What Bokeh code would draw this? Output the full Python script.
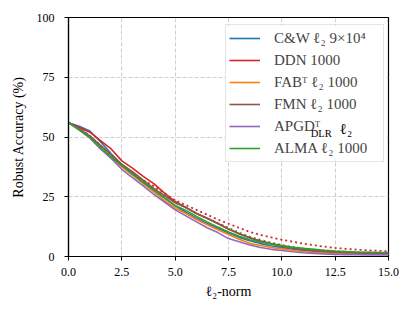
from bokeh.plotting import figure
from bokeh.models import FixedTicker, PrintfTickFormatter, Label, Range1d, BoxAnnotation
from bokeh.embed import file_html
from bokeh.resources import INLINE

x = [0, 0.5, 1, 1.5, 2, 2.5, 3, 3.5, 4, 4.5, 5, 5.5, 6, 6.5, 7, 7.5, 8, 8.5, 9, 9.5,
     10, 10.5, 11, 11.5, 12, 12.5, 13, 13.5, 14, 14.5, 15]

cw = [56, 54.5, 52.5, 48, 43, 38.5, 34.8, 31.2, 27.8, 24.5, 21.2, 18.5, 16, 13.8, 11.8, 9.8,
      8, 6.6, 5.4, 4.5, 3.7, 3, 2.5, 2.1, 1.8, 1.6, 1.4, 1.3, 1.2, 1.1, 1.0]
ddn = [56, 54, 52, 48.5, 45, 40, 37, 33.5, 30.5, 26.5, 23, 20.5, 18, 16, 13.8, 11.5,
       9.5, 7.8, 6.5, 5.4, 4.6, 3.8, 3.2, 2.6, 2.2, 1.9, 1.6, 1.4, 1.3, 1.2, 1.1]
fab = [56, 53, 50, 45.5, 41.5, 37.5, 34, 30.5, 27, 23.5, 20.2, 18, 15.5, 13.3, 11.2, 9.2,
       7.2, 5.5, 4.6, 3.8, 3.2, 2.6, 2.1, 1.8, 1.6, 1.4, 1.3, 1.2, 1.1, 1.0, 1.0]
fmn = [56, 53.5, 50.5, 46.5, 42.5, 38.5, 35.5, 32, 28.5, 25.5, 22.5, 20.5, 18, 16, 13.8, 11.5,
       9.5, 7.8, 6.4, 5.3, 4.3, 3.5, 2.9, 2.4, 2.1, 1.8, 1.6, 1.5, 1.4, 1.3, 1.2]
apgd = [56, 53, 49.5, 45, 41, 36.5, 33, 29.5, 26, 22.8, 19.5, 17, 14.5, 12, 10, 7.5,
        6.2, 4.8, 3.8, 3.0, 2.5, 2.0, 1.6, 1.3, 1.1, 0.9, 0.8, 0.8, 0.7, 0.7, 0.7]
alma = [56, 53, 50, 45.5, 41.5, 38, 34.5, 31, 27.8, 24.5, 21.3, 19.3, 16.8, 14.5, 12.3, 10.3,
        8.5, 7, 6, 5.2, 4.5, 3.9, 3.4, 3.0, 2.6, 2.3, 2.1, 1.9, 1.8, 1.7, 1.6]
ddn_dotted = [56, 53.5, 50.5, 46.5, 42, 38, 35, 32, 29.5, 26.5, 23.5, 21.5, 19.5, 17.5, 15.5, 13.7,
              12, 10.3, 9, 8, 7, 6.2, 5.4, 4.7, 4.1, 3.6, 3.2, 2.9, 2.6, 2.4, 2.2]
alma_dotted = [56, 53.5, 50.5, 46, 42, 38.5, 34.5, 31.5, 28.5, 25.5, 22.5, 20.5, 18, 16, 14, 12,
               10, 8.3, 7, 5.8, 4.8, 4, 3.4, 2.9, 2.5, 2.2, 2, 1.8, 1.7, 1.6, 1.5]

x_ticks = [0, 2.5, 5, 7.5, 10, 12.5, 15]
y_ticks = [0, 25, 50, 75, 100]

FONT = "Liberation Serif"

p = figure(width=400, height=308, output_backend="svg", toolbar_location=None,
           x_range=Range1d(0, 15), y_range=Range1d(0, 100),
           min_border_left=68, min_border_right=12, min_border_top=17, min_border_bottom=52)
p.background_fill_color = "white"
p.border_fill_color = "white"
p.outline_line_color = "black"
p.outline_line_width = 1.2

for g in (p.xgrid, p.ygrid):
    g.grid_line_color = "#cfcfcf"
    g.grid_line_dash = "4 2"
    g.grid_line_width = 1
p.xgrid.ticker = FixedTicker(ticks=x_ticks)
p.ygrid.ticker = FixedTicker(ticks=y_ticks)

p.xaxis.ticker = FixedTicker(ticks=x_ticks)
p.yaxis.ticker = FixedTicker(ticks=y_ticks)
p.xaxis.formatter = PrintfTickFormatter(format="%.1f")
p.yaxis.formatter = PrintfTickFormatter(format="%d")
for ax in (p.xaxis, p.yaxis):
    ax.axis_line_color = "black"
    ax.axis_line_width = 1.2
    ax.major_tick_line_color = "black"
    ax.major_tick_in = 0
    ax.major_tick_out = 4
    ax.minor_tick_line_color = None
    ax.major_label_text_font = FONT
    ax.major_label_text_font_size = "12px"
    ax.major_label_text_color = "black"
    ax.axis_label_text_font = FONT
    ax.axis_label_text_font_size = "14px"
    ax.axis_label_text_font_style = "normal"
    ax.axis_label_text_color = "black"
p.xaxis.axis_label = "ℓ₂-norm"
p.yaxis.axis_label = "Robust Accuracy (%)"
p.xaxis.major_label_standoff = 7
p.yaxis.major_label_standoff = 10
p.xaxis.axis_label_standoff = 5
p.yaxis.axis_label_standoff = 8

# white backing for the legend (hides grid lines behind it)
p.add_layout(BoxAnnotation(left=7.36, right=14.86, bottom=40.6, top=96.6,
                           fill_color="white", fill_alpha=1.0, line_color=None,
                           level="guide"))

lw = 1.6
p.line(x, ddn_dotted, color="#d62728", line_width=1.8, line_dash="2 3")
p.line(x, alma_dotted, color="#2ca02c", line_width=1.8, line_dash="2 3")
p.line(x, cw, color="#1f77b4", line_width=lw, legend_label="C&W ℓ₂ 9×10⁴")
p.line(x, ddn, color="#d62728", line_width=lw, legend_label="DDN 1000")
p.line(x, fab, color="#ff7f0e", line_width=lw, legend_label="FABᵀ ℓ₂ 1000")
p.line(x, fmn, color="#8c564b", line_width=lw, legend_label="FMN ℓ₂ 1000")
p.line(x, apgd, color="#9467bd", line_width=lw, legend_label="APGDᵀ")
p.line(x, alma, color="#2ca02c", line_width=lw, legend_label="ALMA ℓ₂ 1000")

lg = p.legend[0]
lg.location = (157, 94)
lg.margin = 0
lg.padding = 3
lg.spacing = 2
lg.label_standoff = 14
lg.glyph_width = 31
lg.glyph_height = 20
lg.label_height = 20
lg.label_width = 106
lg.label_text_font = FONT
lg.label_text_font_size = "15px"
lg.border_line_color = "#cccccc"
lg.border_line_width = 1
lg.background_fill_alpha = 0.0

p.add_layout(Label(x=11.35, y=51.4, text="DLR", text_font=FONT, text_font_size="10.5px",
                   text_color="black", text_baseline="alphabetic", level="overlay"))
p.add_layout(Label(x=12.72, y=53.3, text="ℓ₂", text_font=FONT, text_font_size="15px",
                   text_color="black", text_baseline="alphabetic", level="overlay"))

open("out.html", "w").write(file_html(p, INLINE))
